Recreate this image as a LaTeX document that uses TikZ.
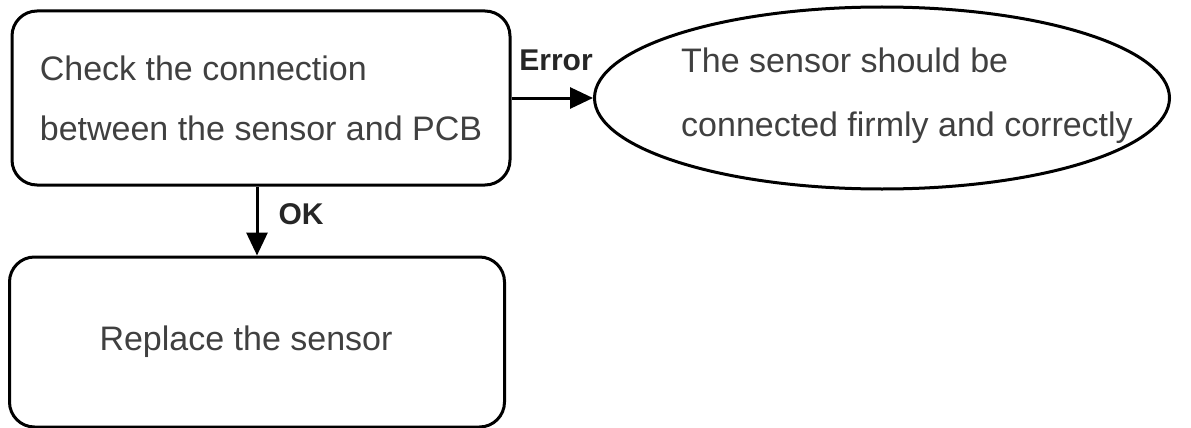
\documentclass[tikz,border=0pt]{standalone}
\usepackage{fontspec}
\setmainfont{Liberation Sans}
\usetikzlibrary{arrows.meta,shapes.geometric}

\begin{document}
\begin{tikzpicture}[x=1pt, y=-1pt,
    schritt/.style={
      rectangle,
      rounded corners=25pt,
      draw,
      line width=3pt,
      align=left,
      text=black!75,
      font=\fontsize{34}{60}\selectfont},
    hinweis/.style={
      ellipse,
      draw,
      line width=3pt,
      inner sep=0pt,
      minimum width=575pt,
      minimum height=182pt},
    marke/.style={font=\fontsize{30}{36}\selectfont\bfseries, text=black!85},
    pfeil/.style={-{Triangle[length=23pt,width=21pt]}, line width=3pt}
    ]
  \useasboundingbox (0,0) rectangle (1191,428);

  \node at (261,98) (pruefen) [schritt, minimum width=498pt, minimum height=174pt] {Check the connection\\between the sensor and PCB};

  \node at (882,98) (fest) [hinweis] {};
  \node at (907,96) (festtext) [align=left, text=black!75, font=\fontsize{34}{64}\selectfont] {The sensor should be\\connected firmly and correctly};

  \node at (257,342) (ersetzen) [schritt, minimum width=495pt, minimum height=170pt] {Replace the sensor\hspace*{22pt}};

  \node at (556,60) (fehler) [marke] {Error};
  \node at (301,214) (ok) [marke] {OK};

  \path [pfeil] (pruefen) edge [] (fest);
  \draw [pfeil] (pruefen.south -| ersetzen.north) -- (ersetzen.north);

\end{tikzpicture}
\end{document}
